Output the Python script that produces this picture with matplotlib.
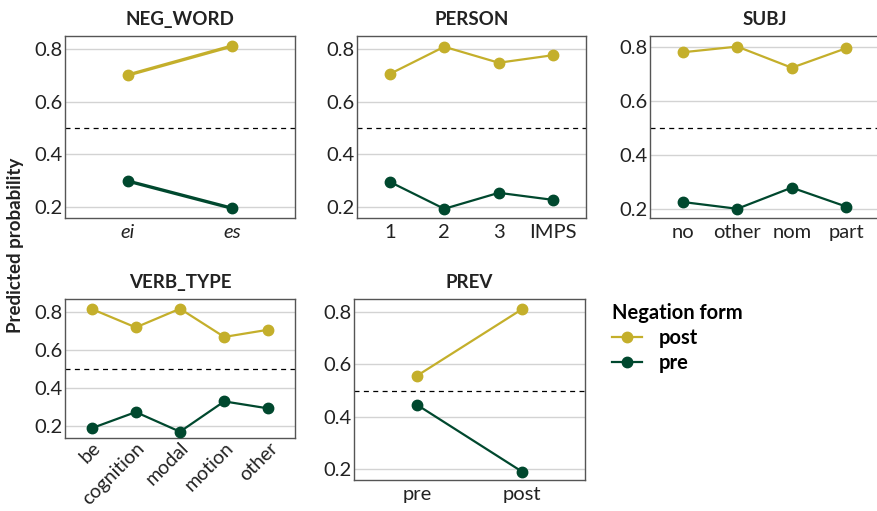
import matplotlib.pyplot as plt
from matplotlib.lines import Line2D

plt.rcParams['font.family'] = ['Lato', 'DejaVu Sans']

# predicted probabilities
neg_word_levels = ['ei', 'es']
neg_word_post = [0.702, 0.813]
neg_word_pre = [0.298, 0.194]

person_levels = ['1', '2', '3', 'IMPS']
person_post = [0.706, 0.810, 0.749, 0.778]
person_pre = [0.295, 0.192, 0.253, 0.226]

subj_levels = ['no', 'other', 'nom', 'part']
subj_post = [0.779, 0.800, 0.722, 0.794]
subj_pre = [0.227, 0.202, 0.280, 0.210]

verb_levels = ['be', 'cognition', 'modal', 'motion', 'other']
verb_post = [0.816, 0.719, 0.817, 0.669, 0.707]
verb_pre = [0.190, 0.275, 0.172, 0.331, 0.294]

prev_levels = ['pre', 'post']
prev_post = [0.557, 0.811]
prev_pre = [0.446, 0.191]

yticks = [0.2, 0.4, 0.6, 0.8]
col_post = '#C4AF2B'
col_pre = '#00482E'
W, H = 878, 511

fig = plt.figure(figsize=(W / 100, H / 100), dpi=100)


def panel(box, title, levels, post, pre, ylim, lw=1.6, italic=False, rotate=False):
    x0, y0, x1, y1 = box
    ax = fig.add_axes([x0 / W, 1 - y1 / H, (x1 - x0) / W, (y1 - y0) / H])
    xs = range(len(levels))
    ax.axhline(0.5, color='black', lw=0.9, ls=(0, (4, 3.5)), zorder=2)
    ax.plot(xs, post, color=col_post, lw=lw, marker='o', ms=7.5, zorder=3)
    ax.plot(xs, pre, color=col_pre, lw=lw, marker='o', ms=7.5, zorder=3)
    ax.set_xlim(-0.6, len(levels) - 0.4)
    ax.set_ylim(*ylim)
    ax.set_yticks(yticks)
    ax.set_yticklabels([f'{v:.1f}' for v in yticks])
    ax.set_xticks(list(xs))
    ax.grid(axis='y', color='#D3D3D3', lw=1.0, zorder=1)
    ax.set_axisbelow(True)
    for s in ax.spines.values():
        s.set_color('#555555')
        s.set_linewidth(1.0)
    ax.tick_params(length=0, labelsize=14.5, colors='#222222')
    ax.tick_params(axis='y', pad=2)
    ax.tick_params(axis='x', pad=4)
    if rotate:
        ax.set_xticklabels(levels, rotation=45, ha='right', rotation_mode='anchor',
                           fontsize=14)
        ax.tick_params(axis='x', pad=1)
    elif italic:
        ax.set_xticklabels(levels, style='italic')
    else:
        ax.set_xticklabels(levels)
    ax.set_title(title, fontsize=13.5, fontweight='bold', color='#222222', pad=8)
    return ax


panel((65, 36, 295, 218), 'NEG_WORD', neg_word_levels, neg_word_post, neg_word_pre,
      (0.157, 0.851), lw=2.4, italic=True)
panel((357, 36, 586, 218), 'PERSON', person_levels, person_post, person_pre,
      (0.157, 0.851))
panel((650, 36, 879, 218), 'SUBJ', subj_levels, subj_post, subj_pre,
      (0.168, 0.839))
panel((65, 299, 295, 438), 'VERB_TYPE', verb_levels, verb_post, verb_pre,
      (0.139, 0.868), rotate=True)
panel((354, 299, 585, 480), 'PREV', prev_levels, prev_post, prev_pre,
      (0.159, 0.850))

fig.text(16 / W, 1 - 245 / H, 'Predicted probability', rotation=90, fontsize=13.5,
         fontweight='bold', color='#222222', ha='center', va='center')

handles = [Line2D([], [], color=col_post, lw=1.6, marker='o', ms=7.5),
           Line2D([], [], color=col_pre, lw=1.6, marker='o', ms=7.5)]
fig.legend(handles, ['post', 'pre'], title='Negation form',
           loc='upper left', bbox_to_anchor=(594 / W, 1 - 285 / H),
           frameon=False, prop={'size': 14.5, 'weight': 'bold'},
           title_fontproperties={'size': 14.5, 'weight': 'bold'},
           alignment='left', handlelength=1.5, handletextpad=0.8,
           labelspacing=0.25)

fig.savefig('out.png', dpi=100)
